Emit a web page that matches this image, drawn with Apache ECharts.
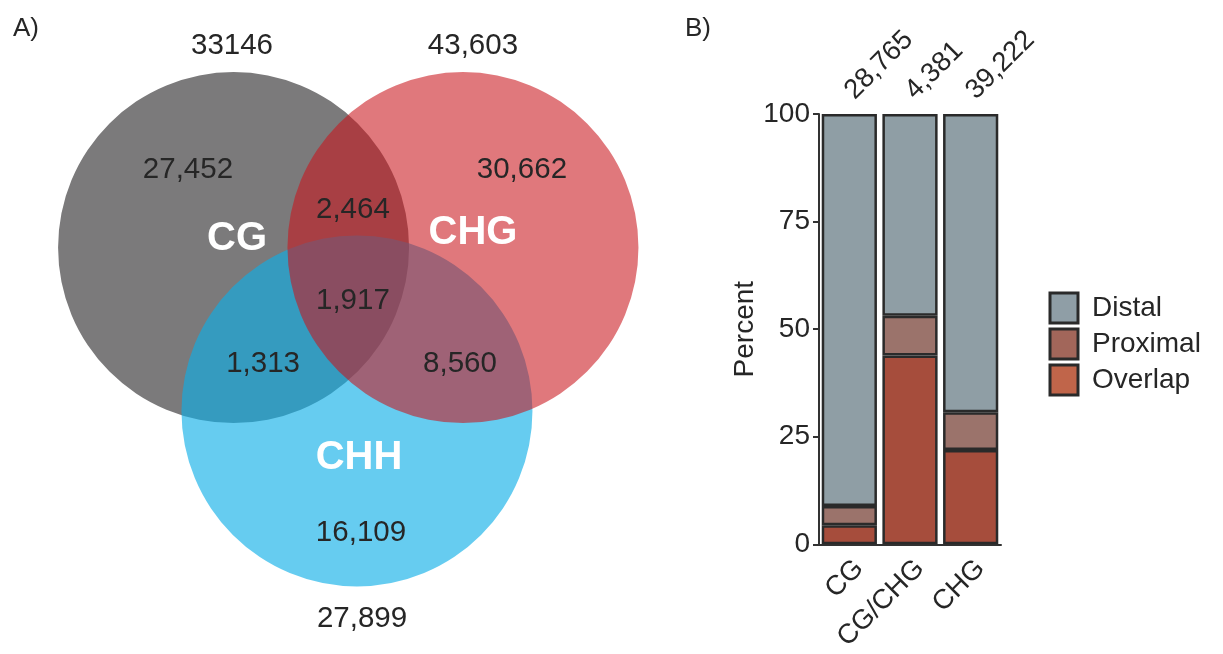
<!DOCTYPE html>
<html><head><meta charset="utf-8">
<script src="https://cdn.jsdelivr.net/npm/echarts@6/dist/echarts.min.js"></script>
<style>html,body{margin:0;padding:0;background:#fff}#c{width:1223px;height:654px}</style>
</head><body><div id="c"></div>
<script>
// ---------- Data: Venn (panel A) ----------
const vennSets = ['CG', 'CHG', 'CHH'];
const vennSetTotals = ['33146', '43,603', '27,899'];
const vennRegions = ['CG only', 'CHG only', 'CHH only', 'CG+CHG', 'CG+CHH', 'CHG+CHH', 'CG+CHG+CHH'];
const vennRegionCounts = ['27,452', '30,662', '16,109', '2,464', '1,313', '8,560', '1,917'];

// ---------- Data: stacked bars (panel B) ----------
const barCategories = ['CG', 'CG/CHG', 'CHG'];
const barTotals = ['28,765', '4,381', '39,222'];
const overlapPct = [4.4, 43.9, 21.9];
const proximalPct = [4.5, 9.2, 8.8];
const distalPct = [91.1, 46.9, 69.3];
const yTickLabels = [0, 25, 50, 75, 100];

// ---------- Layout (Venn geometry in circle-radius units) ----------
const vennLayout = {
  origin: [348, 300], unit: 175.5, xr: 1.95, yTop: 1.7, yBot: 1.9,
  centers: [[-0.652, 0.299], [0.655, 0.299], [0.051, -0.632]],
  radius: 1,
  drawOrder: [0, 2, 1],
  fills: ['rgba(123,122,123,1)', 'rgba(201,21,28,0.576)', 'rgba(12,174,231,0.63)'],
  totalPos: [[-0.661, 1.447], [0.712, 1.447], [0.080, -1.818]],
  namePos: [[-0.632, 0.348], [0.712, 0.382], [0.063, -0.900]],
  regionPos: [[-0.912, 0.741], [0.991, 0.741], [0.074, -1.328], [0.028, 0.513], [-0.484, -0.365], [0.638, -0.365], [0.028, -0.006]]
};
const FONT = 'Liberation Sans, Arial, Helvetica, sans-serif';
const TXT = '#262626';

const vennTexts = [];
vennSetTotals.forEach((t, i) => vennTexts.push({p: vennLayout.totalPos[i], text: t, size: 29.5, weight: 'normal', color: TXT}));
vennRegionCounts.forEach((t, i) => vennTexts.push({p: vennLayout.regionPos[i], text: t, size: 29.5, weight: 'normal', color: TXT}));
vennSets.forEach((t, i) => vennTexts.push({p: vennLayout.namePos[i], text: t, size: 40, weight: 'bold', color: '#ffffff'}));

const L = vennLayout;
const chart = echarts.init(document.getElementById('c'), null, {renderer: 'canvas'});
const axisColor = '#333';
const edge = '#2a2a2a';

const option = {
  animation: false,
  backgroundColor: '#ffffff',
  textStyle: {fontFamily: FONT},
  graphic: [
    {type: 'text', left: 13, top: 16, style: {text: 'A)', fontSize: 26, fill: TXT, fontFamily: FONT}},
    {type: 'text', left: 685, top: 16, style: {text: 'B)', fontSize: 26, fill: TXT, fontFamily: FONT}}
  ],
  grid: [
    {left: 819, top: 114, width: 182, height: 433},
    {left: L.origin[0] - L.xr * L.unit, top: L.origin[1] - L.yTop * L.unit,
     width: 2 * L.xr * L.unit, height: (L.yTop + L.yBot) * L.unit}
  ],
  legend: {
    orient: 'vertical', left: 1043.5, top: 286.5,
    itemWidth: 28, itemHeight: 30, itemGap: 3, icon: 'rect',
    selectedMode: false,
    data: [
      {name: 'Distal', itemStyle: {color: '#8f9ea6'}},
      {name: 'Proximal', itemStyle: {color: '#a2665a'}},
      {name: 'Overlap', itemStyle: {color: '#c0654a'}}
    ],
    itemStyle: {borderColor: edge, borderWidth: 3},
    formatter: n => '{a|' + n + '}',
    textStyle: {fontSize: 28, color: TXT, fontFamily: FONT,
      rich: {a: {fontSize: 28, color: TXT, fontFamily: FONT, padding: [0, 0, 0, 9]}}}
  },
  xAxis: [
    {gridIndex: 0, type: 'category', data: barCategories,
     axisLine: {lineStyle: {color: axisColor, width: 2}},
     axisTick: {alignWithLabel: true, length: 6, lineStyle: {color: axisColor, width: 2}},
     axisLabel: {rotate: 45, align: 'right', verticalAlign: 'top', margin: 10,
                 fontSize: 27.5, color: TXT, fontFamily: FONT, interval: 0}},
    {gridIndex: 1, type: 'value', min: -L.xr, max: L.xr, show: false}
  ],
  yAxis: [
    {gridIndex: 0, type: 'value', min: 0, max: 100, interval: 25,
     name: 'Percent', nameLocation: 'middle', nameGap: 54, nameRotate: 90,
     nameTextStyle: {fontSize: 28, color: TXT, fontFamily: FONT},
     axisLine: {show: true, lineStyle: {color: axisColor, width: 2}},
     axisTick: {show: true, length: 6, lineStyle: {color: axisColor, width: 2}},
     splitLine: {show: false},
     axisLabel: {fontSize: 28, margin: 9, color: TXT, fontFamily: FONT,
                 customValues: yTickLabels}},
    {gridIndex: 1, type: 'value', min: -L.yBot, max: L.yTop, show: false}
  ],
  series: [
    {name: 'Overlap', type: 'bar', stack: 'p', data: overlapPct, barCategoryGap: '9%',
     itemStyle: {color: '#a64d3c', borderColor: edge, borderWidth: 2.5}},
    {name: 'Proximal', type: 'bar', stack: 'p', data: proximalPct,
     itemStyle: {color: '#9b736b', borderColor: edge, borderWidth: 2.5}},
    {name: 'Distal', type: 'bar', stack: 'p', data: distalPct,
     itemStyle: {color: '#8f9ea5', borderColor: edge, borderWidth: 2.5},
     label: {show: true, position: 'top', distance: 19, rotate: 45, align: 'left', verticalAlign: 'middle',
             formatter: p => barTotals[p.dataIndex], fontSize: 27.5, color: TXT, fontFamily: FONT}},
    {type: 'custom', xAxisIndex: 1, yAxisIndex: 1, silent: true, z: 1,
     data: L.drawOrder.map(i => [L.centers[i][0], L.centers[i][1], L.radius, i]),
     encode: {x: 0, y: 1},
     renderItem: (params, api) => {
       const c = api.coord([api.value(0), api.value(1)]);
       const r = api.size([api.value(2), 0])[0];
       return {type: 'circle', shape: {cx: c[0], cy: c[1], r: r},
               style: {fill: L.fills[api.value(3)]}};
     }},
    {type: 'custom', xAxisIndex: 1, yAxisIndex: 1, silent: true, z: 3,
     data: vennTexts.map(t => [t.p[0], t.p[1]]),
     encode: {x: 0, y: 1},
     renderItem: (params, api) => {
       const t = vennTexts[params.dataIndex];
       const c = api.coord([api.value(0), api.value(1)]);
       return {type: 'text', x: c[0], y: c[1],
               style: {text: t.text, fill: t.color, fontSize: t.size, fontWeight: t.weight,
                       fontFamily: FONT, align: 'center', verticalAlign: 'middle'}};
     }}
  ]
};
chart.setOption(option);
</script>
</body></html>
